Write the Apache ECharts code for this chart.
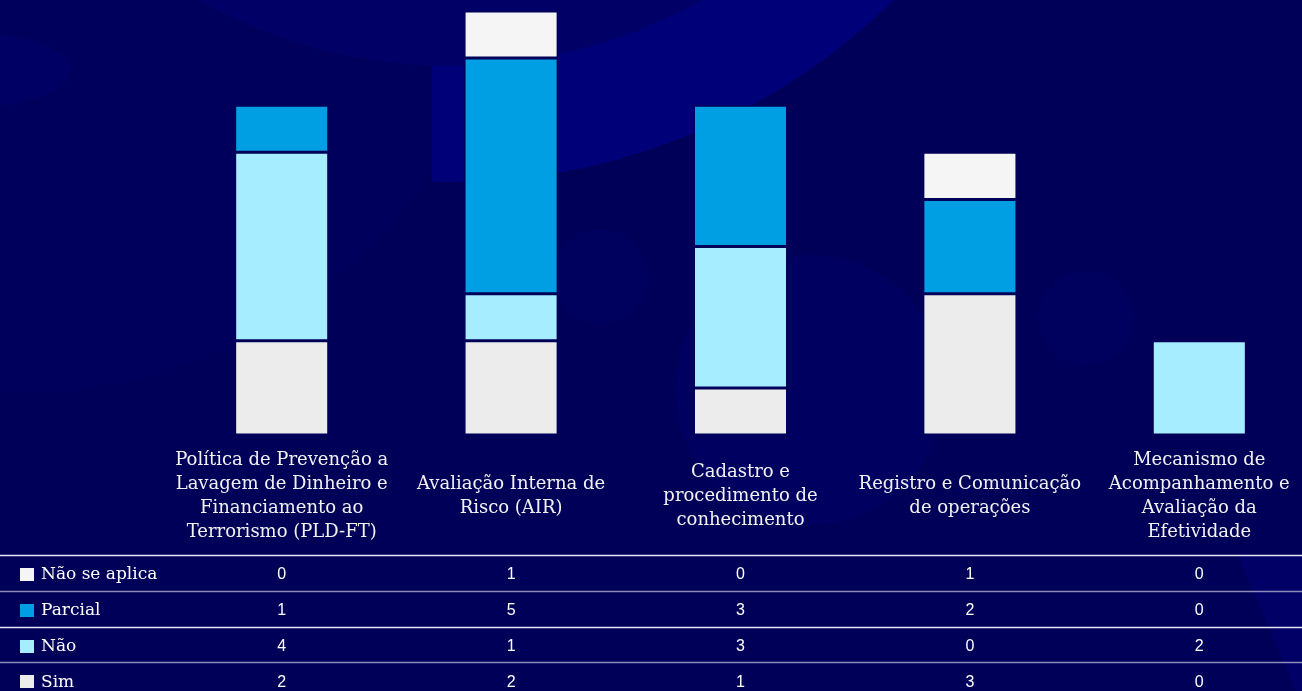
<!DOCTYPE html>
<html>
<head>
<meta charset="utf-8">
<script src="https://cdn.jsdelivr.net/npm/echarts@6/dist/echarts.min.js"></script>
<style>
html,body{margin:0;padding:0;background:#000058;}
#c{width:1302px;height:691px;}
</style>
</head>
<body>
<div id="c"></div>
<script>
// ---- data ----
const categories = [
  'Política de Prevenção a\nLavagem de Dinheiro e\nFinanciamento ao\nTerrorismo (PLD-FT)',
  'Avaliação Interna de\nRisco (AIR)',
  'Cadastro e\nprocedimento de\nconhecimento',
  'Registro e Comunicação\nde operações',
  'Mecanismo de\nAcompanhamento e\nAvaliação da\nEfetividade'
];
const seriesNames = ['Não se aplica', 'Parcial', 'Não', 'Sim'];
const naoSeAplica = [0, 1, 0, 1, 0];
const parcial     = [1, 5, 3, 2, 0];
const nao         = [4, 1, 3, 0, 2];
const sim         = [2, 2, 1, 3, 0];

const colors = {
  'Não se aplica': '#f5f5f5',
  'Parcial': '#009fe3',
  'Não': '#a6edff',
  'Sim': '#ececec'
};
const valuesByName = {
  'Não se aplica': naoSeAplica,
  'Parcial': parcial,
  'Não': nao,
  'Sim': sim
};

const BG = '#000058';
const serif = '"DejaVu Serif", "Liberation Serif", serif';
const sans = '"Liberation Sans", Arial, sans-serif';

// decorative background
function arcPoly(cx, cy, r, minX) {
  const pts = [];
  const a = Math.acos((minX - cx) / r);
  for (let i = 0; i <= 120; i++) {
    const t = -a + (2 * a) * i / 120;
    pts.push([cx + r * Math.cos(t), cy + r * Math.sin(t)]);
  }
  return pts;
}
const bgGraphics = [
  { type: 'circle', shape: { cx: 20, cy: -100, r: 493 }, style: { fill: '#00005c' }, z: -11, silent: true },
  { type: 'polygon', shape: { points: arcPoly(450, -450, 632, 432) }, style: { fill: '#000078' }, z: -10, silent: true },
  { type: 'circle', shape: { cx: 450, cy: -450, r: 516 }, style: { fill: '#000066' }, z: -9, silent: true },
  { type: 'ellipse', shape: { cx: -30, cy: 70, rx: 100, ry: 38 }, style: { fill: '#000064' }, z: -9, silent: true },
  { type: 'circle', shape: { cx: 600, cy: 277, r: 48 }, style: { fill: '#00005f' }, z: -9, silent: true },
  { type: 'circle', shape: { cx: 810, cy: 390, r: 135 }, style: { fill: '#000061' }, z: -9, silent: true },
  { type: 'circle', shape: { cx: 1086, cy: 318, r: 48 }, style: { fill: '#00005e' }, z: -9, silent: true },
  { type: 'polygon', shape: { points: [[1238, 556], [1302, 556], [1302, 691], [1296, 691]] }, style: { fill: '#000066' }, z: -9, silent: true }
];

const stackOrder = ['Sim', 'Não', 'Parcial', 'Não se aplica'];

const chart = echarts.init(document.getElementById('c'), null, { renderer: 'canvas' });
chart.setOption({
  backgroundColor: BG,
  animation: false,
  grid: { left: 167, top: 11, width: 1147, height: 424, containLabel: false, outerBoundsMode: 'none' },
  xAxis: {
    type: 'category',
    data: categories,
    axisLine: { show: false },
    axisTick: { show: false },
    splitLine: { show: false },
    axisLabel: {
      interval: 0,
      color: '#f2f2f2',
      fontFamily: serif,
      fontSize: 18,
      lineHeight: 24,
      margin: 61,
      verticalAlign: 'middle',
      align: 'center'
    }
  },
  yAxis: {
    type: 'value',
    min: 0,
    max: 9,
    show: false
  },
  graphic: bgGraphics,
  series: stackOrder.map(name => ({
    name: name,
    type: 'bar',
    stack: 'total',
    barWidth: '41%',
    itemStyle: { color: colors[name], borderColor: BG, borderWidth: 1.5 },
    data: valuesByName[name].map(v => v === 0 ? '-' : v)
  }))
});

// data table (with legend keys) built from the same arrays, positioned by the category axis
const rowTop = 555;
const rowH = 35.8;
const lineColors = ['#e6e6f5', '#8c8cba', '#e6e6f5', '#8c8cba'];
const tableGraphics = [];
seriesNames.forEach((name, i) => {
  const y = Math.round(rowTop + i * rowH) + 0.5;
  const cy = rowTop + i * rowH + rowH / 2 + 2;
  tableGraphics.push({
    type: 'line',
    shape: { x1: 0, y1: y, x2: 1302, y2: y },
    style: { stroke: lineColors[i], lineWidth: 1.5 },
    silent: true, z: 5
  });
  tableGraphics.push({
    type: 'rect',
    shape: { x: 20, y: Math.round(cy - 7), width: 14, height: 13 },
    style: { fill: colors[name] },
    silent: true, z: 5
  });
  tableGraphics.push({
    type: 'text',
    x: 41,
    y: cy,
    style: {
      text: name,
      fill: '#ffffff',
      font: '17px ' + serif,
      textAlign: 'left',
      textVerticalAlign: 'middle'
    },
    silent: true, z: 5
  });
  valuesByName[name].forEach((v, j) => {
    const x = chart.convertToPixel({ xAxisIndex: 0 }, categories[j]);
    tableGraphics.push({
      type: 'text',
      x: x,
      y: cy,
      style: {
        text: String(v),
        fill: '#ffffff',
        font: '16px ' + sans,
        textAlign: 'center',
        textVerticalAlign: 'middle'
      },
      silent: true, z: 5
    });
  });
});
chart.setOption({ graphic: bgGraphics.concat(tableGraphics) });
</script>
</body>
</html>
